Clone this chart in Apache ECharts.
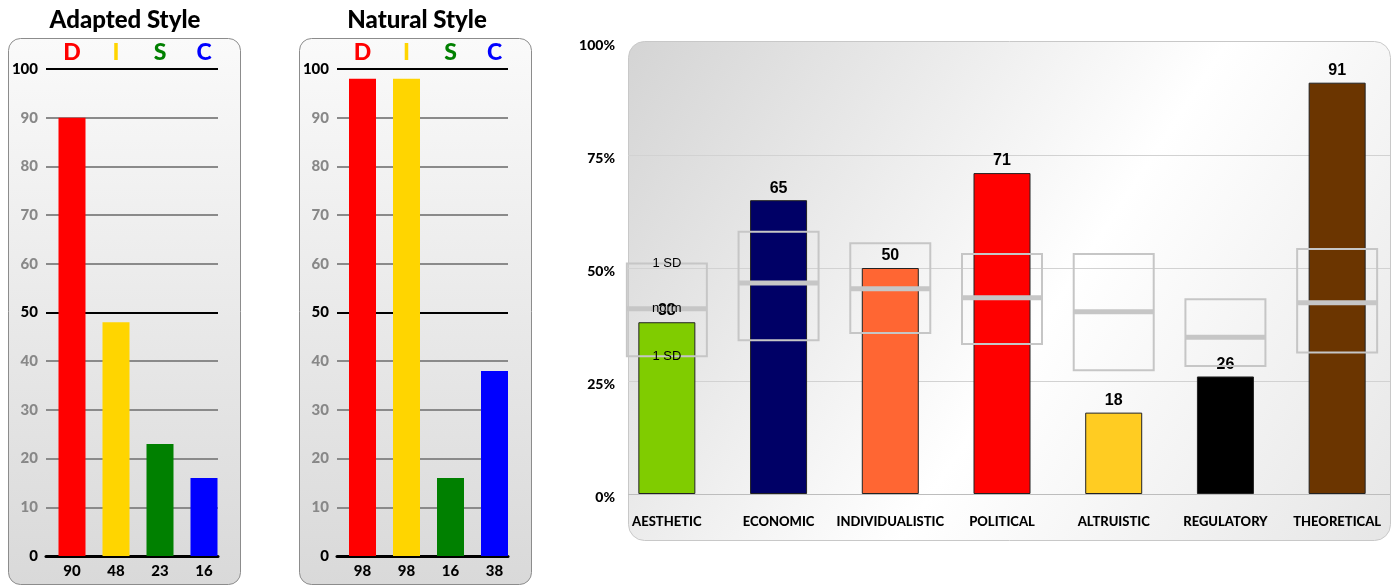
<!DOCTYPE html>
<html>
<head>
<meta charset="utf-8">
<script src="https://cdn.jsdelivr.net/npm/echarts@6/dist/echarts.min.js"></script>
<style>html,body{margin:0;padding:0;background:#fff;}#c{width:1393px;height:586px;}</style>
</head>
<body>
<div id="c"></div>
<script>
// ---- data ----
const discCats = ['D', 'I', 'S', 'C'];
const adaptedValues = [90, 48, 23, 16];
const naturalValues = [98, 98, 16, 38];
const discTicks = [0, 10, 20, 30, 40, 50, 60, 70, 80, 90, 100];

const valueCats = ['AESTHETIC', 'ECONOMIC', 'INDIVIDUALISTIC', 'POLITICAL', 'ALTRUISTIC', 'REGULATORY', 'THEORETICAL'];
const valueScores = [38, 65, 50, 71, 18, 26, 91];
const normLow = [30.5, 34, 35.6, 33.2, 27.4, 28.3, 31.3];
const normMean = [41, 46.7, 45.4, 43.4, 40.3, 34.7, 42.3];
const normHigh = [51, 58, 55.5, 53.1, 53.1, 43.1, 54.2];
const pctTicks = [0, 25, 50, 75, 100];

// ---- styles ----
const discColors = ['#ff0000', '#ffd500', '#008000', '#0000ff'];
const valueColors = ['#80cc00', '#000066', '#ff6633', '#ff0000', '#ffcc22', '#000000', '#6b3500'];
const CAL = 'Lato';
const W = 900;
const ARI = '"Liberation Sans", Arial, sans-serif';

const chart = echarts.init(document.getElementById('c'), null, {renderer: 'canvas'});

function discPanel(lineLeft, lineWidth, barLeft, gi) {
  const lineColors = discTicks.map(t => t === 0 ? 'rgba(0,0,0,0)' : ((t === 50 || t === 100) ? '#000' : '#8a8a8a'));
  const rich = {};
  discColors.forEach((c, i) => { rich['c' + i] = {color: c, fontFamily: CAL, fontWeight: W, fontSize: 23}; });
  return {
    grids: [
      {left: lineLeft, top: 69, width: lineWidth, height: 487},
      {left: barLeft, top: 69, width: 176, height: 487}
    ],
    xAxes: [
      {gridIndex: gi, type: 'value', min: 0, max: 1, position: 'bottom',
        axisLine: {show: true, onZero: false, lineStyle: {color: '#000', width: 3}},
        axisTick: {show: false}, axisLabel: {show: false}, splitLine: {show: false}},
      {gridIndex: gi + 1, type: 'category', data: discCats, position: 'bottom',
        axisLine: {show: false}, axisTick: {show: false},
        axisLabel: {interval: 0, margin: 8, fontFamily: CAL, fontWeight: W, fontSize: 15, color: '#000',
          formatter: (v, i) => String(gi === 0 ? adaptedValues[i] : naturalValues[i])}},
      {gridIndex: gi + 1, type: 'category', data: discCats, position: 'top',
        axisLine: {show: false}, axisTick: {show: false},
        axisLabel: {interval: 0, margin: 5, fontFamily: CAL, fontWeight: W, fontSize: 23,
          formatter: (v, i) => '{c' + i + '|' + v + '}', rich: rich}}
    ],
    yAxes: [
      {gridIndex: gi, type: 'value', min: 0, max: 100, interval: 10,
        axisLine: {show: false}, axisTick: {show: false},
        axisLabel: {margin: 8, fontFamily: CAL, fontWeight: W, fontSize: 15,
          formatter: v => (v === 0 || v === 50 || v === 100) ? '{b|' + v + '}' : '{g|' + v + '}',
          rich: {b: {color: '#000', fontFamily: CAL, fontWeight: W, fontSize: 15},
                 g: {color: '#888', fontFamily: CAL, fontWeight: W, fontSize: 15}}},
        splitLine: {show: true, lineStyle: {color: lineColors, width: 2}}},
      {gridIndex: gi + 1, type: 'value', min: 0, max: 100, show: false}
    ]
  };
}

const pA = discPanel(46, 172, 50, 0);
const pN = discPanel(337, 171, 340.5, 2);

const leftGrad = new echarts.graphic.LinearGradient(0, 0, 0, 1, [
  {offset: 0, color: '#fafafa'}, {offset: 1, color: '#d9d9d9'}]);
const leftGrad2 = new echarts.graphic.LinearGradient(0, 0, 0, 1, [
  {offset: 0, color: '#fafafa'}, {offset: 1, color: '#d9d9d9'}]);
const rightGrad = new echarts.graphic.LinearGradient(0, 0, 1, 1, [
  {offset: 0, color: '#d4d4d4'}, {offset: 0.55, color: '#ffffff'}, {offset: 1, color: '#e6e6e6'}]);

const option = {
  animation: false,
  graphic: [
    {type: 'rect', z: -10, shape: {x: 8.5, y: 38.5, width: 232, height: 546, r: 12},
      style: {fill: leftGrad, stroke: '#8c8c8c', lineWidth: 1}},
    {type: 'rect', z: -10, shape: {x: 299.5, y: 38.5, width: 232, height: 546, r: 12},
      style: {fill: leftGrad2, stroke: '#8c8c8c', lineWidth: 1}},
    {type: 'rect', z: -10, shape: {x: 628.5, y: 41.5, width: 762, height: 499, r: 16},
      style: {fill: rightGrad, stroke: '#c8c8c8', lineWidth: 1}},
    {type: 'text', x: 125, y: 20, style: {text: 'Adapted Style', font: '900 24px ' + CAL, fill: '#000', align: 'center', verticalAlign: 'middle'}},
    {type: 'text', x: 417, y: 20, style: {text: 'Natural Style', font: '900 24px ' + CAL, fill: '#000', align: 'center', verticalAlign: 'middle'}}
  ],
  grid: [
    ...pA.grids, ...pN.grids,
    {left: 628, top: 42, width: 762, height: 452},
    {left: 611, top: 42, width: 786, height: 452}
  ],
  xAxis: [
    ...pA.xAxes, ...pN.xAxes,
    {gridIndex: 4, type: 'value', min: 0, max: 1, show: false},
    {gridIndex: 5, type: 'category', data: valueCats,
      axisLine: {show: false}, axisTick: {show: false},
      axisLabel: {margin: 21, fontFamily: CAL, fontWeight: W, fontSize: 13, color: '#000', interval: 0}}
  ],
  yAxis: [
    ...pA.yAxes, ...pN.yAxes,
    {gridIndex: 4, type: 'value', min: 0, max: 100, interval: 25,
      axisLine: {show: false}, axisTick: {show: false},
      axisLabel: {margin: 13, formatter: '{value}%', fontFamily: CAL, fontWeight: W, fontSize: 14, color: '#000',
        verticalAlign: 'top', padding: [-4, 0, 0, 0]},
      splitLine: {show: true, lineStyle: {color: ['#bdbdbd', '#d2d2d2', '#d2d2d2', '#d2d2d2', 'rgba(0,0,0,0)'], width: 1}}},
    {gridIndex: 5, type: 'value', min: 0, max: 100, show: false}
  ],
  series: [
    {type: 'bar', xAxisIndex: 1, yAxisIndex: 1, barWidth: 27,
      data: adaptedValues.map((v, i) => ({value: v, itemStyle: {color: discColors[i]}}))},
    {type: 'bar', xAxisIndex: 4, yAxisIndex: 3, barWidth: 27,
      data: naturalValues.map((v, i) => ({value: v, itemStyle: {color: discColors[i]}}))},
    {type: 'bar', xAxisIndex: 7, yAxisIndex: 5, barWidth: 57, z: 2,
      data: valueScores.map((v, i) => ({value: v, itemStyle: {color: valueColors[i], borderColor: '#222', borderWidth: 1}})),
      label: {show: true, position: 'top', distance: 4, fontFamily: ARI, fontWeight: 'bold', fontSize: 16, color: '#000'}},
    {type: 'custom', xAxisIndex: 7, yAxisIndex: 5, z: 5,
      data: valueCats.map((c, i) => [i, normLow[i], normMean[i], normHigh[i]]),
      renderItem: function (params, api) {
        const i = api.value(0);
        const lo = api.coord([i, api.value(1)]);
        const mid = api.coord([i, api.value(2)]);
        const hi = api.coord([i, api.value(3)]);
        const w = 80;
        const x0 = lo[0] - w / 2;
        const children = [
          {type: 'rect', shape: {x: x0, y: hi[1], width: w, height: lo[1] - hi[1]},
            style: {fill: 'none', stroke: '#c6c6c6', lineWidth: 2}},
          {type: 'line', shape: {x1: x0, y1: mid[1], x2: x0 + w, y2: mid[1]},
            style: {stroke: '#c6c6c6', lineWidth: 5}}
        ];
        if (params.dataIndex === 0) {
          const f = '13px ' + ARI;
          children.push(
            {type: 'text', style: {x: lo[0], y: hi[1], text: '1 SD', font: f, fill: '#000', align: 'center', verticalAlign: 'middle'}},
            {type: 'text', style: {x: lo[0], y: mid[1], text: 'norm', font: f, fill: '#000', align: 'center', verticalAlign: 'middle'}},
            {type: 'text', style: {x: lo[0], y: lo[1], text: '1 SD', font: f, fill: '#000', align: 'center', verticalAlign: 'middle'}}
          );
        }
        return {type: 'group', children: children};
      }}
  ]
};
chart.setOption(option);
</script>
</body>
</html>
